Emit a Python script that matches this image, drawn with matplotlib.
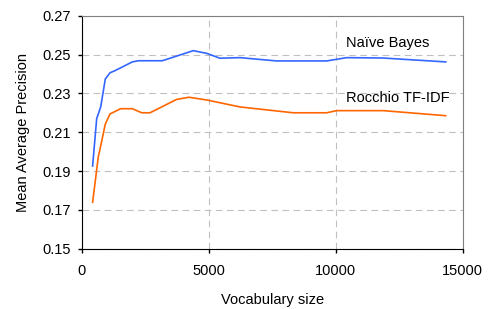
import matplotlib.pyplot as plt
import numpy as np

plt.rcParams['font.family'] = ['Liberation Sans', 'DejaVu Sans']

vocab_nb = [430, 590, 748, 929, 1114, 1311, 1993, 2229, 3174, 4394, 4921, 5445,
            6232, 7677, 9646, 10433, 11874, 14331]
map_nb = [0.1926, 0.217, 0.223, 0.2374, 0.2406, 0.2417, 0.2462, 0.2468, 0.2468,
          0.252, 0.2506, 0.2481, 0.2484, 0.2467, 0.2467, 0.2484, 0.2482, 0.2462]

vocab_ro = [430, 654, 720, 929, 1114, 1535, 1993, 2362, 2689, 3740, 4224, 4921,
            6232, 8331, 9646, 10039, 11874, 14331]
map_ro = [0.1739, 0.1974, 0.2012, 0.2142, 0.2194, 0.2221, 0.2221, 0.2200, 0.2200,
          0.2269, 0.2280, 0.2266, 0.2230, 0.2200, 0.2200, 0.2211, 0.2211, 0.2185]

fig = plt.figure(figsize=(4.96, 3.09), dpi=100)
ax = fig.add_axes([81.7 / 496, 1 - 248.7 / 309, 381 / 496, 233 / 309])

ax.plot(vocab_nb, map_nb, color='#3366FF', lw=1.2)
ax.plot(vocab_ro, map_ro, color='#FF6600', lw=1.2)

ax.text(10400, 0.2559, 'Naïve Bayes', fontsize=10.5, va='center')
ax.text(10400, 0.2276, 'Rocchio TF-IDF', fontsize=10.5, va='center')

ax.set_xlim(0, 15000)
ax.set_ylim(0.15, 0.27)
ax.set_xticks([0, 5000, 10000, 15000])
ax.set_yticks(np.round(np.arange(0.15, 0.271, 0.02), 2))
ax.set_yticklabels([f'{v:.2f}' for v in ax.get_yticks()])
ax.tick_params(labelsize=10.5, direction='out', length=3, width=1, color='black')
ax.tick_params(axis='x', pad=8)
ax.tick_params(axis='y', pad=5)

ax.grid(True, color='#C0C0C0', linestyle=(0, (6, 4)), lw=0.8)
for s in ['top', 'right']:
    ax.spines[s].set_color('#808080')
for s in ['left', 'bottom']:
    ax.spines[s].set_color('black')

ax.set_xlabel('Vocabulary size', fontsize=10.5, labelpad=11)
ax.set_ylabel('Mean Average Precision', fontsize=10.5, labelpad=9)

fig.savefig('out.png', dpi=100)
